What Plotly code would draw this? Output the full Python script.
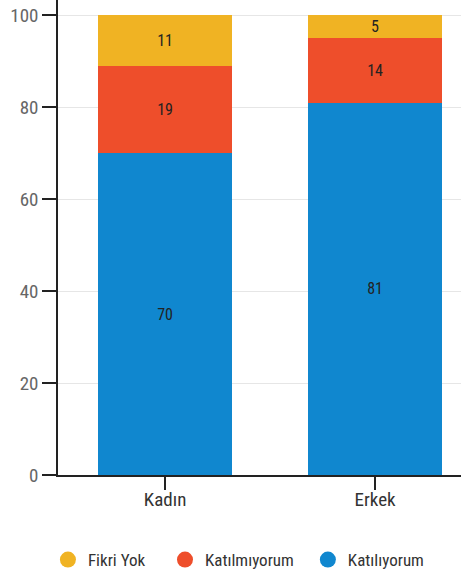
import plotly.graph_objects as go

categories = ["Kadın", "Erkek"]
katiliyorum = [70, 81]
katilmiyorum = [19, 14]
fikri_yok = [11, 5]
series_names = ["Katılıyorum", "Katılmıyorum", "Fikri Yok"]
colors = ["#1087CF", "#EE4E2B", "#F0B323"]
y_ticks = [0, 20, 40, 60, 80, 100]

font_family = "Roboto Condensed, Liberation Sans Narrow, Roboto, sans-serif"

fig = go.Figure()
for name, vals, col in zip(series_names, [katiliyorum, katilmiyorum, fikri_yok], colors):
    fig.add_trace(go.Bar(
        x=categories, y=vals, name=name, marker=dict(color=col, line=dict(width=0)),
        text=[str(v) for v in vals], textposition="inside", insidetextanchor="middle",
        textangle=0, constraintext="none",
        textfont=dict(color="#222222", size=16, family=font_family),
        showlegend=False, width=0.638,
    ))

# legend entries with circle markers, one legend each for exact placement
legend_names = ["Fikri Yok", "Katılmıyorum", "Katılıyorum"]
legend_colors = ["#F0B323", "#EE4E2B", "#1087CF"]
legend_ids = ["legend", "legend2", "legend3"]
for name, col, lid in zip(legend_names, legend_colors, legend_ids):
    fig.add_trace(go.Scatter(
        x=[None], y=[None], mode="markers", name=name, legend=lid,
        marker=dict(color=col, size=16, symbol="circle"),
    ))

leg_common = dict(orientation="h", y=-0.179, yanchor="middle", xanchor="left",
                  font=dict(size=17, color="#333333"), bgcolor="rgba(0,0,0,0)")

fig.update_layout(
    barmode="stack",
    width=461, height=575,
    margin=dict(l=58, r=0, t=0, b=100, autoexpand=False),
    plot_bgcolor="white", paper_bgcolor="white",
    font=dict(family=font_family, color="#333333"),
    legend=dict(x=-0.025, **leg_common),
    legend2=dict(x=0.2655, **leg_common),
    legend3=dict(x=0.620, **leg_common),
    xaxis=dict(range=[-0.51, 1.409], showline=True, linecolor="#222222", linewidth=1.5,
               ticks="outside", ticklen=13, tickcolor="#222222", tickwidth=1.5,
               automargin=False, ticklabelstandoff=-7,
               tickfont=dict(size=19, color="#333333")),
    yaxis=dict(range=[0, 103.3], tickvals=y_ticks, showline=True, linecolor="#222222",
               linewidth=1.5, ticks="outside", ticklen=14, tickcolor="#222222", tickwidth=1.5,
               showgrid=True, gridcolor="#e6e6e6", gridwidth=1, zeroline=False,
               automargin=False,
               tickfont=dict(size=19, color="#666666")),
)

fig.write_html("out.html", config={"displayModeBar": False},
               post_script="document.body.style.margin='0';")
